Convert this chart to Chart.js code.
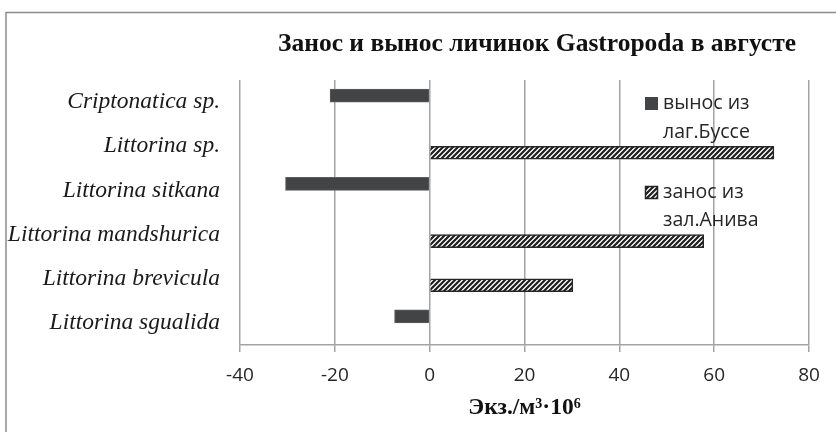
<!DOCTYPE html>
<html><head><meta charset="utf-8">
<script src="https://cdn.jsdelivr.net/npm/chart.js@4/dist/chart.umd.min.js"></script>
<style>html,body{margin:0;padding:0;background:#fff;} #wrap{width:836px;height:432px;position:relative;}</style>
</head><body><div id="wrap"><canvas id="c" width="836" height="432"></canvas></div>
<script>
const categories = ['Criptonatica sp.','Littorina sp.','Littorina sitkana','Littorina mandshurica','Littorina brevicula','Littorina sgualida'];
const outflow = [-21, null, -30.4, null, null, -7.4];   // вынос из лаг.Буссе
const inflow  = [null, 72.6, null, 57.8, 30.2, null];   // занос из зал.Анива
const seriesLabels = [['вынос из','лаг.Буссе'],['занос из','зал.Анива']];
const xTicks = [-40,-20,0,20,40,60,80];
const chartTitle = 'Занос и вынос личинок Gastropoda в августе';
const axisTitle = 'Экз./м³·10⁶';

function makeHatch(){
  const s=5; const c=document.createElement('canvas'); c.width=s; c.height=s;
  const g=c.getContext('2d');
  g.fillStyle='#fff'; g.fillRect(0,0,s,s);
  g.strokeStyle='#1e1e1e'; g.lineWidth=2.2;
  g.beginPath();
  g.moveTo(0,s); g.lineTo(s,0);
  g.moveTo(-1,1); g.lineTo(1,-1);
  g.moveTo(s-1,s+1); g.lineTo(s+1,s-1);
  g.stroke();
  return document.getElementById('c').getContext('2d').createPattern(c,'repeat');
}
const hatch = makeHatch();
const darkFill = '#434446';

const framePlugin = {
  id:'frame',
  beforeDraw(chart){
    const g=chart.ctx; g.save();
    g.fillStyle='#fff'; g.fillRect(0,0,chart.width,chart.height);
    g.strokeStyle='#8c8c8c'; g.lineWidth=1.5;
    g.beginPath(); g.moveTo(6,432); g.lineTo(6,12.5); g.lineTo(836,12.5); g.stroke();
    g.restore();
  }
};
const titlePlugin = {
  id:'ctitle',
  afterDraw(chart){
    const g=chart.ctx; g.save();
    g.font='bold 25.5px "Liberation Serif"'; g.fillStyle='#111';
    g.textAlign='center'; g.textBaseline='middle';
    g.fillText(chartTitle, 537, 44);
    g.restore();
  }
};
const legendPlugin = {
  id:'clegend',
  afterDraw(chart){
    const g=chart.ctx; g.save();
    const markerY=[97,186], lineY=[[103,132],[192,220]];
    chart.data.datasets.forEach((ds,i)=>{
      g.fillStyle=ds.backgroundColor;
      g.fillRect(645,markerY[i],13,13);
      if(i===1){ g.strokeStyle='#262626'; g.lineWidth=1.5; g.strokeRect(645.5,markerY[i]+0.5,12,12); }
      g.font='19.5px "Open Sans"'; g.fillStyle='#262626'; g.textAlign='left'; g.textBaseline='middle';
      seriesLabels[i].forEach((t,j)=>g.fillText(t,663,lineY[i][j]));
    });
    g.restore();
  }
};

new Chart(document.getElementById('c'), {
  type:'bar',
  data:{labels:categories, datasets:[
    {label:seriesLabels[0].join(' '), data:outflow, backgroundColor:darkFill, borderColor:'#5c5c5c', borderWidth:1, barThickness:13},
    {label:seriesLabels[1].join(' '), data:inflow, backgroundColor:hatch, borderColor:'#262626', borderWidth:1.5, barThickness:13}
  ]},
  options:{
    indexAxis:'y', responsive:false, animation:false, devicePixelRatio:1,
    layout:{padding:{top:80,right:27,bottom:0,left:0}},
    plugins:{legend:{display:false}, title:{display:false}, tooltip:{enabled:false}},
    scales:{
      x:{min:-40, max:80,
         afterBuildTicks:(s)=>{ s.ticks = xTicks.map(v=>({value:v})); },
         ticks:{font:{family:'Open Sans', size:19}, color:'#262626', padding:12, maxRotation:0},
         grid:{color:'#a3a3a3', lineWidth:1.5, tickLength:7, drawTicks:true},
         border:{color:'#a3a3a3', width:1.5},
         title:{display:true, text:axisTitle, font:{family:'Liberation Serif', size:23.5, weight:'bold'}, color:'#111', padding:{top:0,bottom:10}},
         afterFit:(s)=>{ s.height=87; }
      },
      y:{grid:{display:false}, border:{display:false},
         ticks:{font:{family:'Liberation Serif', size:23.5, style:'italic'}, color:'#1a1a1a', padding:12},
         afterFit:(s)=>{ s.width=240; }
      }
    }
  },
  plugins:[framePlugin, titlePlugin, legendPlugin]
});
</script>
</body></html>
